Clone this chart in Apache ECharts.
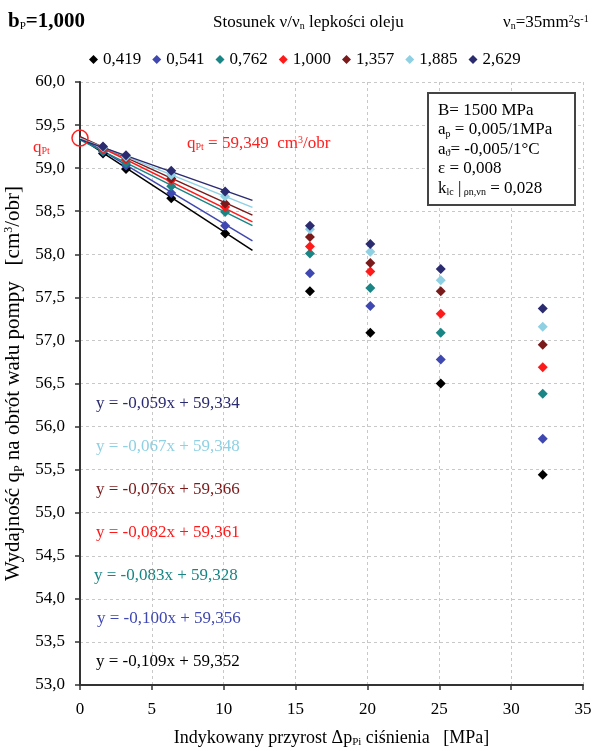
<!DOCTYPE html>
<html><head><meta charset="utf-8">
<script src="https://cdn.jsdelivr.net/npm/echarts@6/dist/echarts.min.js"></script>
<style>html,body{margin:0;padding:0;background:#fff}#c{width:596px;height:751px}</style>
</head><body><div id="c"></div>
<script>
// ---- data ----
const seriesNames = ['0,419','0,541','0,762','1,000','1,357','1,885','2,629'];
const seriesColors = ['#000000','#3f48b0','#1a8585','#ff1a1a','#7a1a1a','#8fd0e3','#2b2b70'];
const xPressure = [1.6, 3.2, 6.35, 10.1, 16.0, 20.2, 25.1, 32.2];
const y0419 = [59.17, 58.99, 58.65, 58.24, 57.57, 57.09, 56.50, 55.44];
const y0541 = [59.19, 59.03, 58.71, 58.33, 57.78, 57.40, 56.78, 55.86];
const y0762 = [59.20, 59.06, 58.79, 58.49, 58.01, 57.61, 57.09, 56.38];
const y1000 = [59.22, 59.10, 58.86, 58.55, 58.09, 57.80, 57.31, 56.69];
const y1357 = [59.24, 59.12, 58.88, 58.59, 58.20, 57.90, 57.57, 56.95];
const y1885 = [59.24, 59.13, 58.92, 58.67, 58.29, 58.03, 57.70, 57.16];
const y2629 = [59.25, 59.15, 58.97, 58.73, 58.33, 58.12, 57.83, 57.37];
const allY = [y0419, y0541, y0762, y1000, y1357, y1885, y2629];
// trend line coefficients (as printed on the chart)
const slopes = [-0.109, -0.100, -0.083, -0.082, -0.076, -0.067, -0.059];
const intercepts = [59.352, 59.356, 59.328, 59.361, 59.366, 59.348, 59.334];
const trendRange = [0, 12];
const qPt = 59.349;
const xTicks = [0, 35, 5];
const yTicks = [53, 60, 0.5];

const SERIF = '"Liberation Serif","DejaVu Serif",serif';
const fmt = (v, d) => v.toFixed(d).replace('.', ',');

const series = [];
// trend lines
slopes.forEach((a, i) => {
  series.push({
    type: 'line', silent: true, symbol: 'none', z: 2,
    lineStyle: { color: seriesColors[i], width: 1.5 },
    data: trendRange.map(x => [x, intercepts[i] + a * x])
  });
});
// measured points
seriesNames.forEach((n, i) => {
  series.push({
    name: n, type: 'scatter', symbol: 'diamond', symbolSize: 10, z: 5,
    itemStyle: { color: seriesColors[i], opacity: 1 },
    data: xPressure.map((x, k) => [x, allY[i][k]])
  });
});
// qPt circle
series.push({
  type: 'scatter', symbol: 'circle', symbolSize: 16, z: 6, silent: true,
  itemStyle: { color: 'rgba(0,0,0,0)', borderColor: '#ff2020', borderWidth: 1.5, opacity: 1 },
  data: [[0, qPt]]
});

const eqY = [663, 620, 577, 534, 491, 448, 405];
const eqX = [96, 97, 94, 96, 96, 96, 96];
const graphics = [];
slopes.forEach((a, i) => {
  graphics.push({
    type: 'text', left: eqX[i], top: eqY[i] - 10, z: 10,
    style: { text: 'y = ' + fmt(a, 3) + 'x + ' + fmt(intercepts[i], 3), fill: seriesColors[i], font: '17px ' + SERIF }
  });
});
const sub = (sz, col, pad) => ({ font: sz + 'px ' + SERIF, fill: col, padding: pad });
graphics.push(
  { type: 'text', left: 8, top: 11, style: { text: '{b|b}{s|P}{b|=1,000}', rich: { b: { font: 'bold 21px ' + SERIF, fill: '#000' }, s: sub(11, '#000', [10, 0, 0, 0]) } } },
  { type: 'text', left: 213, top: 14, style: { text: '{t|Stosunek ν/ν}{s|n}{t| lepkości oleju}', rich: { t: { font: '17px ' + SERIF, fill: '#000' }, s: sub(10, '#000', [7, 0, 0, 0]) } } },
  { type: 'text', left: 503, top: 14, style: { text: '{t|ν}{s|n}{t|=35mm}{p|2}{t|s}{p|-1}', rich: { t: { font: '17px ' + SERIF, fill: '#000' }, s: sub(10, '#000', [7, 0, 0, 0]), p: sub(10, '#000', [0, 0, 7, 0]) } } },
  { type: 'rect', shape: { x: 428, y: 93, width: 147, height: 112 }, style: { fill: '#fff', stroke: '#444', lineWidth: 2 }, z: 8 },
  { type: 'text', left: 438, top: 102, z: 9, style: {
      text: '{t|B= 1500 MPa}\n{t|a}{s|p}{t| = 0,005/1MPa}\n{t|a}{s|ϑ}{t|= -0,005/1°C}\n{t|ε = 0,008}\n{t|k}{s|lc}{t| |}{s| ρn,νn}{t| = 0,028}',
      rich: { t: { font: '17px ' + SERIF, fill: '#000', lineHeight: 19.5 }, s: { font: '10px ' + SERIF, fill: '#000', padding: [8, 0, 0, 0], lineHeight: 19.5 } } } },
  { type: 'text', left: 33, top: 139, z: 9, style: { text: '{t|q}{s|Pt}', rich: { t: { font: '17px ' + SERIF, fill: '#ff2020' }, s: sub(10, '#ff2020', [7, 0, 0, 0]) } } },
  { type: 'text', left: 187, top: 135, z: 9, style: { text: '{t|q}{s|Pt}{t| = 59,349  cm}{p|3}{t|/obr}', rich: { t: { font: '17px ' + SERIF, fill: '#ff2020' }, s: sub(10, '#ff2020', [7, 0, 0, 0]), p: sub(10, '#ff2020', [0, 0, 8, 0]) } } }
);

const chart = echarts.init(document.getElementById('c'), null, { renderer: 'canvas' });
chart.setOption({
  animation: false,
  backgroundColor: '#fff',
  grid: { left: 80, right: 13, top: 82, bottom: 66, containLabel: false, outerBoundsMode: 'none' },
  legend: {
    data: seriesNames, top: 46, left: 84, icon: 'diamond', itemWidth: 9, itemHeight: 9, itemGap: 11,
    textStyle: { fontFamily: SERIF, fontSize: 17, color: '#000', padding: [0, 0, 0, 0] }
  },
  xAxis: {
    type: 'value', min: xTicks[0], max: xTicks[1], interval: xTicks[2],
    axisLine: { lineStyle: { color: '#333', width: 2 } },
    axisTick: { show: true, length: 5, lineStyle: { color: '#333', width: 1.5 } },
    axisLabel: { fontFamily: SERIF, fontSize: 17, color: '#000', margin: 16 },
    splitLine: { lineStyle: { color: '#c8c8c8', type: [3, 3] } },
    name: '{t|Indykowany przyrost Δp}{s|Pi}{t| ciśnienia   [MPa]}', nameLocation: 'middle', nameGap: 43,
    nameTextStyle: { rich: { t: { fontFamily: SERIF, fontSize: 18, color: '#000' }, s: { fontFamily: SERIF, fontSize: 11, color: '#000', padding: [9, 0, 0, 0] } } }
  },
  yAxis: {
    type: 'value', min: yTicks[0], max: yTicks[1], interval: yTicks[2],
    axisLine: { show: true, lineStyle: { color: '#333', width: 2 } },
    axisTick: { show: true, length: 5, lineStyle: { color: '#333', width: 1.5 } },
    axisLabel: { fontFamily: SERIF, fontSize: 17, color: '#000', margin: 15, formatter: v => fmt(v, 1) },
    splitLine: { lineStyle: { color: '#c8c8c8', type: [3, 3] } },
    name: '{t|Wydajność q}{s|P}{t| na obrót wału pompy   [cm}{p|3}{t|/obr]}', nameLocation: 'middle', nameGap: 44, nameRotate: 90,
    nameTextStyle: { rich: { t: { fontFamily: SERIF, fontSize: 21, color: '#000' }, s: { fontFamily: SERIF, fontSize: 12, color: '#000', padding: [10, 0, 0, 0] }, p: { fontFamily: SERIF, fontSize: 12, color: '#000', padding: [0, 0, 10, 0] } } }
  },
  series: series,
  graphic: graphics
});
</script>
</body></html>
